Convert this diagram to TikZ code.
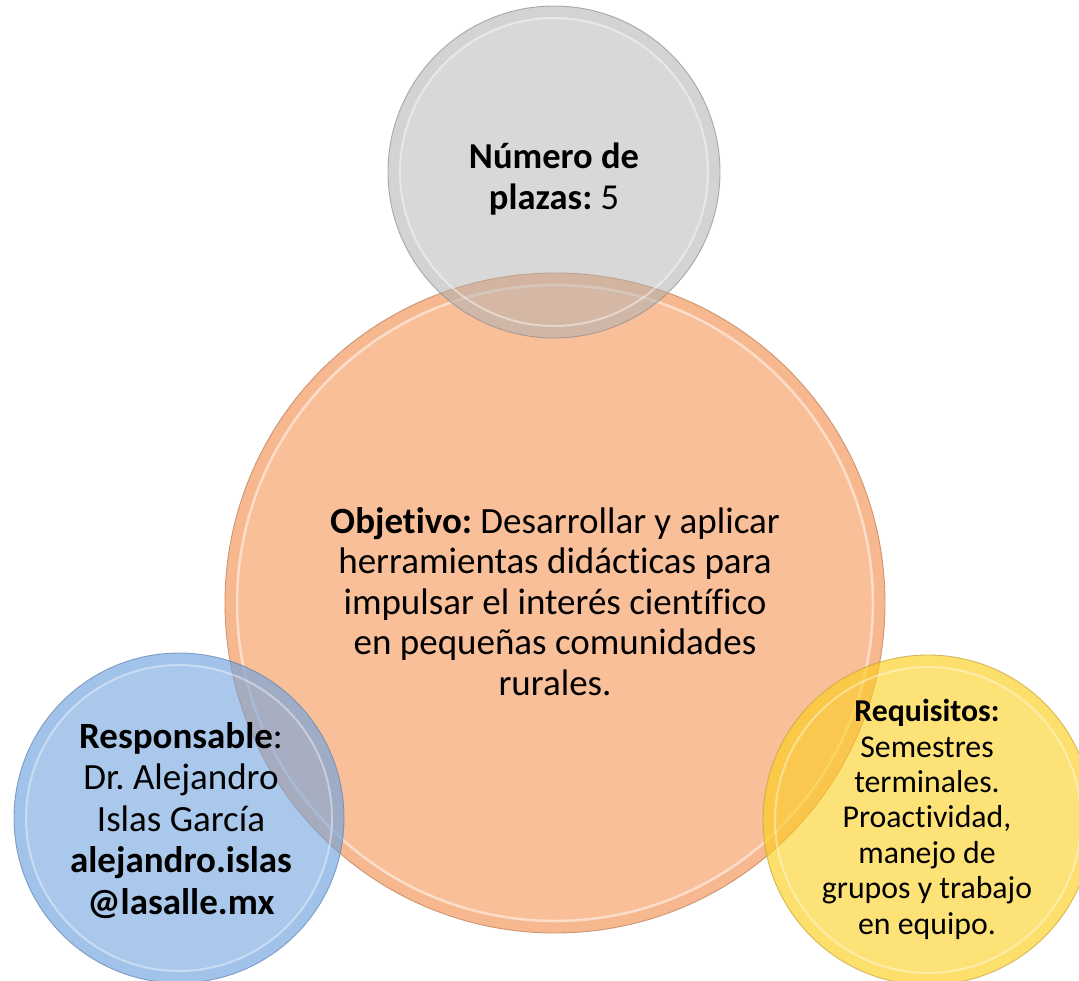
\documentclass[tikz,border=0pt]{standalone}
\usepackage{fontspec}
\setmainfont{Carlito}[Ligatures=NoCommon]
\frenchspacing
\definecolor{objFill}{RGB}{249,191,153}
\definecolor{objRing}{RGB}{247,184,144}
\definecolor{objLine}{RGB}{205,150,115}
\definecolor{greyFill}{RGB}{177,177,177}
\definecolor{greyLine}{RGB}{140,140,140}
\definecolor{blueFill}{RGB}{113,163,222}
\definecolor{blueLine}{RGB}{95,130,175}
\definecolor{yellowFill}{RGB}{252,207,30}
\definecolor{yellowLine}{RGB}{190,160,60}
\tikzset{
  bubble/.style={circle, inner sep=0pt, outer sep=0pt, line width=0.9pt},
  label/.style={align=center, anchor=base, inner sep=0pt},
}
\begin{document}
\begin{tikzpicture}[x=1pt,y=-1pt]
\useasboundingbox (0,0) rectangle (1079,980);
\clip (0,0) rectangle (1079,980);

% central disc
\node[bubble, fill=objRing, draw=objLine, minimum size=660pt] (obj) at (555,603) {};
\fill[objFill] (obj.center) circle (318);
\draw[white, opacity=0.5, line width=2.5pt] (obj.center) circle (318);

% top disc
\node[bubble, fill=greyFill, fill opacity=0.5, draw=greyLine, draw opacity=0.7,
      minimum size=332pt] (plazas) at (554,172) {};
\draw[greyFill, opacity=0.12, line width=12pt] (plazas.center) circle (160);
\draw[white, opacity=0.45, line width=2pt] (plazas.center) circle (154);

% lower left disc
\node[bubble, fill=blueFill, fill opacity=0.6, draw=blueLine, draw opacity=0.7,
      minimum size=330pt] (resp) at (179,818) {};
\draw[blueFill, opacity=0.15, line width=12pt] (resp.center) circle (159);
\draw[white, opacity=0.4, line width=2pt] (resp.center) circle (153);

% lower right disc
\node[bubble, fill=yellowFill, fill opacity=0.6, draw=yellowLine, draw opacity=0.7,
      minimum size=330pt] (req) at (928,820) {};
\draw[yellowFill, opacity=0.15, line width=12pt] (req.center) circle (159);
\draw[white, opacity=0.4, line width=2pt] (req.center) circle (153);

% texts (anchored on the baseline of their last line)
\node[label, font=\fontsize{36.5}{41}\selectfont] (plazasText) at (554,209)
  {\textbf{Número de}\\\textbf{plazas:} 5};
\node[label, font=\fontsize{37}{40.5}\selectfont] (objText) at (555,695)
  {\textbf{Objetivo:} Desarrollar y aplicar\\
   herramientas didácticas para\\
   impulsar el interés científico\\
   en pequeñas comunidades\\
   rurales.};
\node[label, font=\fontsize{37}{41.5}\selectfont] (respText) at (181,914)
  {\textbf{Responsable}:\\
   Dr. Alejandro\\
   Islas García\\
   \textbf{alejandro.islas}\\
   \textbf{@lasalle.mx}};
\node[label, font=\fontsize{31.8}{35.4}\selectfont] (reqText) at (927,934)
  {\textbf{Requisitos:}\\
   Semestres\\
   terminales.\\
   Proactividad,\\
   manejo de\\
   grupos y trabajo\\
   en equipo.};
\end{tikzpicture}
\end{document}
